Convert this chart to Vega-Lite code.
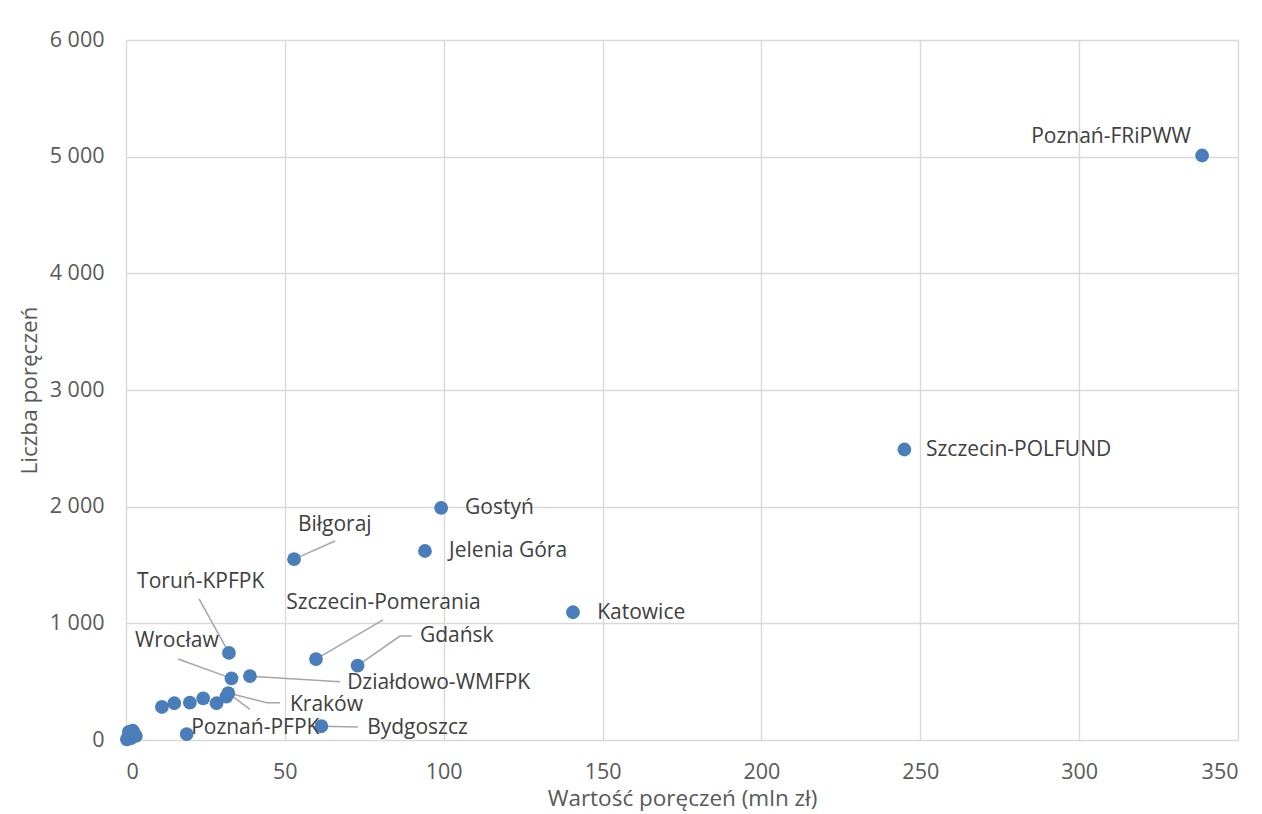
{
  "$schema": "https://vega.github.io/schema/vega-lite/v6.json",
  "width": 1112,
  "height": 700,
  "autosize": {"type": "none"},
  "padding": {"left": 126, "top": 40, "right": 24, "bottom": 74},
  "background": "white",
  "config": {
    "font": "Open Sans",
    "view": {"stroke": null},
    "axis": {"gridColor": "#d9d9d9", "gridWidth": 1.4, "domain": false, "ticks": false, "labelColor": "#595959", "labelFontSize": 21.5, "titleColor": "#595959", "titleFontSize": 22.5, "titleFontWeight": "normal", "labelFont": "Open Sans", "titleFont": "Open Sans"}
  },
  "datasets": {
    "points": [
      {"name": "Poznań-FRiPWW", "x": 338.7, "y": 5010},
      {"name": "Szczecin-POLFUND", "x": 245, "y": 2490},
      {"name": "Gostyń", "x": 99.2, "y": 1990},
      {"name": "Jelenia Góra", "x": 94.1, "y": 1620},
      {"name": "Katowice", "x": 140.7, "y": 1095},
      {"name": "Biłgoraj", "x": 52.9, "y": 1550},
      {"name": "Toruń-KPFPK", "x": 32.4, "y": 746},
      {"name": "Szczecin-Pomerania", "x": 59.8, "y": 694},
      {"name": "Gdańsk", "x": 72.9, "y": 638},
      {"name": "Wrocław", "x": 33.2, "y": 528},
      {"name": "Działdowo-WMFPK", "x": 39.0, "y": 547},
      {"name": "Kraków", "x": 32.2, "y": 402},
      {"name": "Bydgoszcz", "x": 61.5, "y": 118},
      {"name": "Poznań-PFPK", "x": 19.1, "y": 51},
      {"name": "", "x": 31.6, "y": 372},
      {"name": "", "x": 11.3, "y": 283},
      {"name": "", "x": 15.2, "y": 315},
      {"name": "", "x": 20.1, "y": 320},
      {"name": "", "x": 24.3, "y": 357},
      {"name": "", "x": 28.5, "y": 315},
      {"name": "", "x": 0.3, "y": 5},
      {"name": "", "x": 0.6, "y": 20},
      {"name": "", "x": 1.1, "y": 40},
      {"name": "", "x": 1.6, "y": 15},
      {"name": "", "x": 2.1, "y": 80},
      {"name": "", "x": 2.5, "y": 60},
      {"name": "", "x": 3.1, "y": 35},
      {"name": "", "x": 0.9, "y": 70}
    ],
    "labels": [
      {"name": "Poznań-FRiPWW", "lx": 284.9, "ly": 5169},
      {"name": "Szczecin-POLFUND", "lx": 251.8, "ly": 2486},
      {"name": "Gostyń", "lx": 106.7, "ly": 1989},
      {"name": "Jelenia Góra", "lx": 101.7, "ly": 1620},
      {"name": "Katowice", "lx": 148.3, "ly": 1089},
      {"name": "Biłgoraj", "lx": 54.1, "ly": 1843},
      {"name": "Toruń-KPFPK", "lx": 3.5, "ly": 1354},
      {"name": "Szczecin-Pomerania", "lx": 50.4, "ly": 1174},
      {"name": "Gdańsk", "lx": 92.5, "ly": 891},
      {"name": "Wrocław", "lx": 2.8, "ly": 849},
      {"name": "Działdowo-WMFPK", "lx": 69.6, "ly": 489},
      {"name": "Kraków", "lx": 51.6, "ly": 300},
      {"name": "Poznań-PFPK", "lx": 20.5, "ly": 103},
      {"name": "Bydgoszcz", "lx": 75.9, "ly": 103}
    ],
    "leaders": [
      {"name": "Biłgoraj", "o": 1, "x": 52.9, "y": 1550},
      {"name": "Biłgoraj", "o": 2, "x": 65.8, "y": 1706},
      {"name": "Toruń-KPFPK", "o": 1, "x": 32.4, "y": 746},
      {"name": "Toruń-KPFPK", "o": 2, "x": 23.0, "y": 1209},
      {"name": "Szczecin-Pomerania", "o": 1, "x": 59.8, "y": 694},
      {"name": "Szczecin-Pomerania", "o": 2, "x": 80.9, "y": 1029},
      {"name": "Gdańsk", "o": 1, "x": 72.9, "y": 638},
      {"name": "Gdańsk", "o": 2, "x": 86.2, "y": 891},
      {"name": "Gdańsk", "o": 3, "x": 89.9, "y": 891},
      {"name": "Wrocław", "o": 1, "x": 33.2, "y": 528},
      {"name": "Wrocław", "o": 2, "x": 16.4, "y": 694},
      {"name": "Działdowo-WMFPK", "o": 1, "x": 39.0, "y": 547},
      {"name": "Działdowo-WMFPK", "o": 2, "x": 67.4, "y": 500},
      {"name": "Kraków", "o": 1, "x": 32.2, "y": 402},
      {"name": "Kraków", "o": 2, "x": 44.3, "y": 320},
      {"name": "Kraków", "o": 3, "x": 48.5, "y": 320},
      {"name": "Poznań-PFPK", "o": 1, "x": 32.2, "y": 402},
      {"name": "Poznań-PFPK", "o": 2, "x": 39.0, "y": 263},
      {"name": "Bydgoszcz", "o": 1, "x": 61.5, "y": 118},
      {"name": "Bydgoszcz", "o": 2, "x": 73.0, "y": 111}
    ]
  },
  "layer": [
    {
      "data": {"name": "leaders"},
      "mark": {"type": "line", "color": "#a6a6a6", "strokeWidth": 1.5},
      "encoding": {
        "x": {"field": "x", "type": "quantitative", "scale": {"domain": [0, 350], "nice": false}, "axis": {"values": [0, 50, 100, 150, 200, 250, 300, 350], "labelPadding": 21, "title": "Wartość poręczeń (mln zł)", "titlePadding": 5}},
        "y": {"field": "y", "type": "quantitative", "scale": {"domain": [0, 6000], "nice": false}, "axis": {"values": [0, 1000, 2000, 3000, 4000, 5000, 6000], "labelPadding": 22, "labelExpr": "replace(format(datum.value, ','), ',', ' ')", "title": "Liczba poręczeń", "titlePadding": 8}},
        "detail": {"field": "name"},
        "order": {"field": "o"}
      }
    },
    {
      "data": {"name": "points"},
      "mark": {"type": "circle", "color": "#4a7ebb", "opacity": 1, "size": 190},
      "encoding": {
        "x": {"field": "x", "type": "quantitative"},
        "y": {"field": "y", "type": "quantitative"}
      }
    },
    {
      "data": {"name": "labels"},
      "mark": {"type": "text", "align": "left", "baseline": "middle", "fontSize": 21, "color": "#404040", "font": "Open Sans"},
      "encoding": {
        "x": {"field": "lx", "type": "quantitative"},
        "y": {"field": "ly", "type": "quantitative"},
        "text": {"field": "name"}
      }
    }
  ]
}
